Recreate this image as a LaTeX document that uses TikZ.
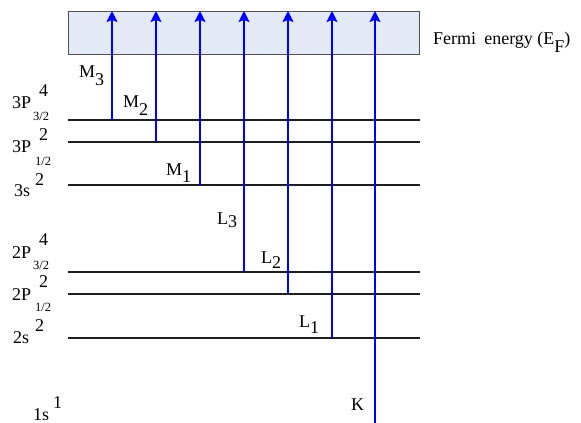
\documentclass[tikz,border=0pt]{standalone}
\usepackage{fontspec}
\setmainfont{Liberation Serif}
\usetikzlibrary{arrows.meta}
\definecolor{boxfill}{HTML}{E3EAF6}
\definecolor{boxdraw}{HTML}{505050}
\definecolor{levelc}{HTML}{1E1E1E}
\begin{document}
\begin{tikzpicture}[x=1pt,y=-1pt,
  lbl/.style={anchor=base west,inner sep=0pt,font=\fontsize{18}{21}\selectfont},
  frac/.style={anchor=base west,inner sep=0pt,font=\fontsize{12.5}{14}\selectfont},
  level/.style={draw=levelc,line width=2pt},
  trans/.style={draw=blue,line width=2pt,-{Stealth[length=11pt,width=11pt,inset=2pt]}}]
\useasboundingbox (0,0) rectangle (581,423);
% Fermi band
\node[draw=boxdraw,fill=boxfill,line width=1pt,minimum width=351pt,minimum height=43pt,inner sep=0pt,anchor=north west] (fermi) at (68,11) {};
\node[lbl] (ef) at (433,44) {Fermi\hspace{0.45em}energy (E\raisebox{-9pt}{F})};
% levels
\foreach \n/\yy in {m3/120, m2/142, m1/185, l3/272, l2/294, l1/338}
  \draw[level] (68,\yy) coordinate (\n w) -- (420,\yy) coordinate (\n e);
% transition start points
\coordinate (sM3) at (112,120);
\coordinate (sM2) at (156,142);
\coordinate (sM1) at (200,185);
\coordinate (sL3) at (244,272);
\coordinate (sL2) at (288,294);
\coordinate (sL1) at (332,338);
\coordinate (sK) at (375,423);
\foreach \s in {sM3,sM2,sM1,sL3,sL2,sL1,sK}
  \draw[trans] (\s) -- (\s |- fermi.north);
% transition labels
\node[lbl] (tM3) at (79,77) {M\raisebox{-8pt}{3}};
\node[lbl] (tM2) at (123,107) {M\raisebox{-8pt}{2}};
\node[lbl] (tM1) at (166,175) {M\raisebox{-7pt}{1}};
\node[lbl] (tL3) at (217,224) {L\raisebox{-3pt}{3}};
\node[lbl] (tL2) at (261,263) {L\raisebox{-5pt}{2}};
\node[lbl] (tL1) at (299,327) {L\raisebox{-6pt}{1}};
\node[lbl] (tK) at (351,410) {K};
% state labels
\node[lbl] (a1) at (12,108) {3P};  \node[lbl] (a2) at (39,96) {4};  \node[frac] (a3) at (33,120) {3/2};
\node[lbl] (b1) at (12,152) {3P};  \node[lbl] (b2) at (39,140) {2}; \node[frac] (b3) at (35,165) {1/2};
\node[lbl] (c1) at (14,196) {3s};  \node[lbl] (c2) at (35,185) {2};
\node[lbl] (d1) at (12,258) {2P};  \node[lbl] (d2) at (39,245) {4}; \node[frac] (d3) at (33,269) {3/2};
\node[lbl] (e1) at (12,300) {2P};  \node[lbl] (e2) at (39,287) {2}; \node[frac] (e3) at (35,311) {1/2};
\node[lbl] (f1) at (13,343) {2s};  \node[lbl] (f2) at (35,331) {2};
\node[lbl] (g1) at (33,420) {1s};  \node[lbl] (g2) at (53,408) {1};
\end{tikzpicture}
\end{document}
